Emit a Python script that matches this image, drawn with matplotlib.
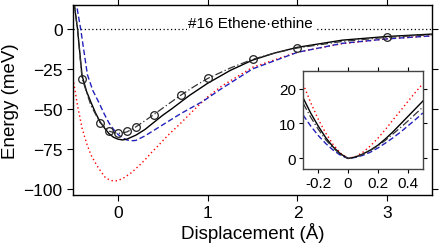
import matplotlib
matplotlib.use("Agg")
import matplotlib.pyplot as plt

plt.rcParams['font.family'] = ['Liberation Sans', 'DejaVu Sans']

# reference points (circles)
ref_x = [-0.4, -0.2, -0.1, 0.0, 0.1, 0.2, 0.4, 0.7, 1.0, 1.5, 2.0, 3.0]
ref_y = [-31.2, -58.6, -64.0, -65.0, -64.0, -61.3, -53.6, -41.5, -31.0, -19.0, -11.9, -5.2]

# dash-dot curve through the reference points
dd_x = [-0.49, -0.45, -0.4, -0.3, -0.2, -0.1, 0.0, 0.1, 0.2, 0.3, 0.4, 0.55, 0.7, 0.85, 1.0,
        1.25, 1.5, 1.75, 2.0, 2.5, 3.0, 3.5]
dd_y = [17, 0, -31, -48, -58.6, -64, -65.5, -64.5, -61.3, -57.5, -53.6, -47.5, -41.5, -36, -31,
        -24.5, -19, -15, -11.9, -7.8, -5.2, -3.6]

# solid black curve
k_x = [-0.49, -0.45, -0.4, -0.35, -0.3, -0.25, -0.2, -0.15, -0.1, -0.05, 0.0, 0.05, 0.1, 0.2, 0.3,
       0.4, 0.5, 0.6, 0.8, 1.0, 1.25, 1.5, 1.75, 2.0, 2.5, 3.0, 3.5]
k_y = [17, 0, -29, -39, -46, -52.5, -58, -62, -65.5, -67.8, -69, -69.5, -69, -66.5, -63,
       -58.5, -54, -50, -41.5, -34, -26, -19.5, -15, -11.5, -7, -4.7, -3.2]

# blue dashed curve
b_x = [-0.47, -0.415, -0.34, -0.28, -0.21, -0.15, -0.1, -0.05, 0.0, 0.05, 0.1, 0.15, 0.2, 0.3,
       0.4, 0.5, 0.7, 0.95, 1.15, 1.5, 2.0, 2.5, 3.0, 3.5]
b_y = [18, 0, -28.6, -38.5, -46.3, -53.5, -58.8, -62.8, -66, -68.2, -69.5, -70, -69.8, -67,
       -63.5, -60, -53, -45.2, -37.5, -25, -14.6, -9, -6.2, -4.3]

# red dotted curve
r_x = [-0.5, -0.45, -0.4, -0.35, -0.3, -0.23, -0.18, -0.14, -0.09, -0.045, 0.0, 0.07, 0.15,
       0.23, 0.3, 0.38, 0.45, 0.55, 0.7, 0.85, 1.0, 1.15, 1.5, 2.0, 2.5, 3.0, 3.5]
r_y = [-31, -48, -62, -71.5, -79, -85.9, -90, -93.1, -94.7, -95.2, -95, -93.1, -90,
       -85.9, -82, -77, -73, -67, -59, -50.5, -42.5, -36, -24, -14.5, -9.2, -6.2, -4.3]

# inset curves (energies relative to each minimum)
ik_x = [-0.3, -0.25, -0.2, -0.15, -0.1, -0.05, 0.0, 0.05, 0.1, 0.15, 0.2, 0.25, 0.3, 0.35, 0.4, 0.45, 0.5]
ik_y = [17.3, 13.0, 9.3, 6.0, 3.3, 1.3, 0.0, 0.4, 1.3, 2.4, 3.8, 5.6, 7.6, 9.8, 12.0, 14.2, 16.4]
idd_y = [15.8, 11.8, 8.4, 5.4, 3.0, 1.2, 0.0, 0.4, 1.2, 2.3, 3.6, 5.2, 7.0, 8.8, 10.7, 12.7, 14.7]
ir_y = [21.3, 16.0, 11.3, 7.3, 4.0, 1.5, 0.0, 0.5, 1.8, 3.6, 5.8, 8.3, 11.0, 13.6, 16.3, 18.9, 21.4]
ib_y = [12.4, 9.3, 6.6, 4.3, 2.4, 0.9, 0.0, 0.3, 0.9, 1.8, 3.0, 4.4, 5.9, 7.5, 9.3, 11.1, 13.0]

title = "#16 Ethene\u00b7ethine"

fig = plt.figure(figsize=(4.4, 2.51), dpi=100)
ax = fig.add_axes([0.166, 0.219, 0.816, 0.757])

ax.axhline(0, color='black', lw=0.9, ls=(0, (1, 2)))
ax.plot(r_x, r_y, color='red', lw=1.0, ls=(0, (1, 2)))
ax.plot(b_x, b_y, color='#2222bb', lw=1.0, ls=(0, (4, 2)))
ax.plot(k_x, k_y, color='black', lw=1.0)
ax.plot(dd_x, dd_y, color='#333333', lw=0.9, ls=(0, (6, 2, 1, 2)))
ax.plot(ref_x, ref_y, 'o', mfc='none', mec='#222222', mew=0.9, ms=5.5)

ax.text(1.48, 1.3, title, ha='center', va='baseline', fontsize=11,
        bbox=dict(facecolor='white', edgecolor='none', pad=1.0))

ax.set_xlim(-0.5, 3.5)
ax.set_ylim(-104, 15)
ax.set_xticks([0, 1, 2, 3])
ax.set_yticks([0, -25, -50, -75, -100])
ax.tick_params(direction='out', top=True, right=True, labeltop=False, labelright=False,
               labelsize=12.5, length=4, width=0.8)
ax.set_xlabel("Displacement (\u00c5)", fontsize=13.5, labelpad=1)
ax.set_ylabel("Energy (meV)", fontsize=13.5, labelpad=3)
for s in ax.spines.values():
    s.set_linewidth(1.0)

ins = fig.add_axes([0.689, 0.323, 0.272, 0.390])
ins.plot(ik_x, ir_y, color='red', lw=1.0, ls=(0, (1, 2)))
ins.plot(ik_x, ib_y, color='#2222bb', lw=1.0, ls=(0, (4, 2)))
ins.plot(ik_x, ik_y, color='black', lw=1.0)
ins.plot(ik_x, idd_y, color='#333333', lw=0.9, ls=(0, (6, 2, 1, 2)))
ins.set_xlim(-0.3, 0.5)
ins.set_ylim(-3, 25)
ins.set_xticks([-0.2, 0, 0.2, 0.4])
ins.set_xticklabels(["-0.2", "0", "0.2", "0.4"])
ins.set_yticks([0, 10, 20])
ins.tick_params(direction='out', top=True, right=True, labeltop=False, labelright=False,
                labelsize=11, length=3, width=0.8, pad=2)
for s in ins.spines.values():
    s.set_linewidth(1.0)
    s.set_color('#444444')

fig.savefig("out.png", dpi=100)
